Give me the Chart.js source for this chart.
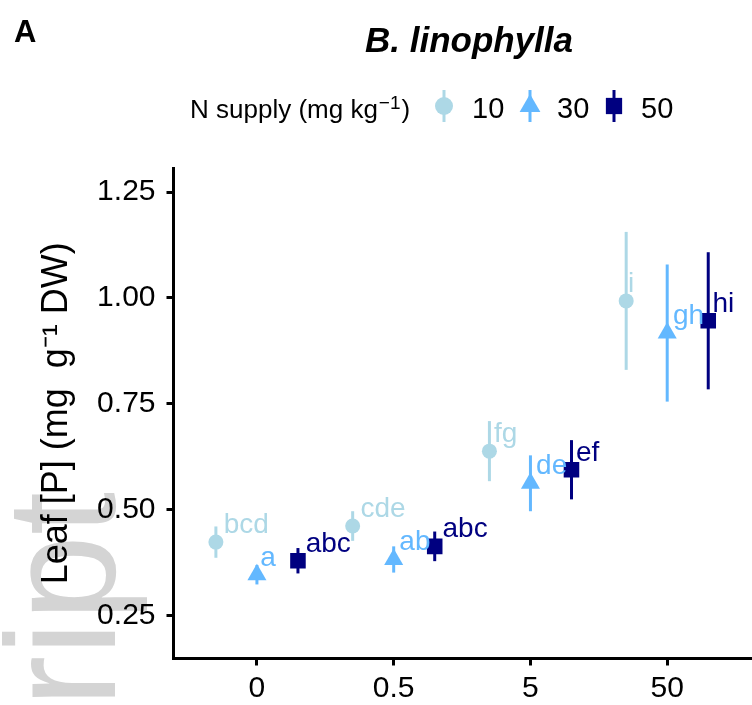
<!DOCTYPE html>
<html>
<head>
<meta charset="utf-8">
<script src="https://cdn.jsdelivr.net/npm/chart.js@4.4.1/dist/chart.umd.min.js"></script>
<style>
  html, body { margin: 0; padding: 0; background: #fff; }
  #wrap { width: 752px; height: 705px; }
</style>
</head>
<body>
<div id="wrap"><canvas id="leafP" width="752" height="705"></canvas></div>
<script>
// P supply (x categories) and N supply levels (series)
const pSupply = ['0', '0.5', '5', '50'];
const nSupply = ['10', '30', '50'];

// mean leaf [P] and standard error for each N level
const mean10 = [0.423, 0.461, 0.638, 0.993];
const se10   = [0.037, 0.035, 0.071, 0.163];
const mean30 = [0.346, 0.382, 0.562, 0.917];
const se30   = [0.023, 0.031, 0.066, 0.162];
const mean50 = [0.379, 0.413, 0.594, 0.946];
const se50   = [0.030, 0.035, 0.070, 0.162];

// letters of the post-hoc test
const letters10 = ['bcd', 'cde', 'fg', 'i'];
const letters30 = ['a', 'ab', 'de', 'gh'];
const letters50 = ['abc', 'abc', 'ef', 'hi'];

const yTicks = [0.25, 0.5, 0.75, 1.0, 1.25];

const FONT = "'Liberation Sans', Arial, Helvetica, sans-serif";
const colors = ['#ADD8E6', '#63B8FF', '#000080'];
const styles = ['circle', 'triangle', 'rect'];
const radii = [7.5, 11, 11];
const dodge = [-0.3, 0, 0.3];

function makeSet(k, means, errs, letters) {
    return {
        label: nSupply[k],
        data: means.map((m, i) => ({ x: i + 1 + dodge[k], y: m })),
        errs: errs,
        letters: letters,
        backgroundColor: colors[k],
        borderColor: colors[k],
        borderWidth: 0,
        pointStyle: styles[k],
        pointRadius: radii[k],
        pointHoverRadius: radii[k]
    };
}

// watermark left over from the manuscript pdf
const watermark = {
    id: 'watermark',
    beforeDraw(chart) {
        const ctx = chart.ctx;
        ctx.save();
        ctx.translate(115, 492);
        ctx.rotate(-Math.PI / 2);
        ctx.font = '155px ' + FONT;
        ctx.fillStyle = '#d4d4d4';
        ctx.textAlign = 'right';
        ctx.textBaseline = 'alphabetic';
        ctx.fillText('Manuscript', 0, 0);
        ctx.restore();
    }
};

// vertical error bars (mean +/- se)
const errorBars = {
    id: 'errorBars',
    beforeDatasetsDraw(chart) {
        const ctx = chart.ctx;
        const y = chart.scales.y;
        chart.data.datasets.forEach((ds, k) => {
            const meta = chart.getDatasetMeta(k);
            ctx.save();
            ctx.strokeStyle = ds.borderColor;
            ctx.lineWidth = 3;
            ds.data.forEach((p, i) => {
                const px = meta.data[i].x;
                ctx.beginPath();
                ctx.moveTo(px, y.getPixelForValue(p.y - ds.errs[i]));
                ctx.lineTo(px, y.getPixelForValue(p.y + ds.errs[i]));
                ctx.stroke();
            });
            ctx.restore();
        });
    }
};

// significance letters next to each point
const letterLabels = {
    id: 'letterLabels',
    afterDatasetsDraw(chart) {
        const ctx = chart.ctx;
        ctx.save();
        ctx.font = '28px ' + FONT;
        ctx.textAlign = 'left';
        ctx.textBaseline = 'alphabetic';
        chart.data.datasets.forEach((ds, k) => {
            const meta = chart.getDatasetMeta(k);
            ctx.fillStyle = ds.borderColor;
            ds.letters.forEach((t, i) => {
                const pt = meta.data[i];
                const w = ctx.measureText(t).width;
                ctx.fillText(t, pt.x + 1 + 0.15 * w, pt.y - 9);
            });
        });
        ctx.restore();
    }
};

// panel tag, title and legend row
const header = {
    id: 'header',
    afterDraw(chart) {
        const ctx = chart.ctx;
        const H = Chart.helpers;
        ctx.save();
        ctx.fillStyle = '#000';
        ctx.textBaseline = 'alphabetic';

        ctx.font = 'bold 31px ' + FONT;
        ctx.textAlign = 'left';
        ctx.fillText('A', 14, 42);

        ctx.font = 'italic bold 35px ' + FONT;
        ctx.textAlign = 'center';
        ctx.fillText('B. linophylla', 469, 52);

        // legend title with superscript
        ctx.textAlign = 'left';
        let x = 190;
        ctx.font = '26px ' + FONT;
        ctx.fillText('N supply (mg kg', x, 118);
        x += ctx.measureText('N supply (mg kg').width + 1;
        ctx.font = '19px ' + FONT;
        ctx.fillText('\u22121', x, 109);
        x += ctx.measureText('\u22121').width + 1;
        ctx.font = '26px ' + FONT;
        ctx.fillText(')', x, 118);

        const keyX = [444, 530, 614];
        const labX = [472, 557, 641];
        const keyR = [9, 12, 11.5];
        nSupply.forEach((lab, k) => {
            ctx.strokeStyle = colors[k];
            ctx.fillStyle = colors[k];
            ctx.lineWidth = 3;
            ctx.beginPath();
            ctx.moveTo(keyX[k], 90);
            ctx.lineTo(keyX[k], 122);
            ctx.stroke();
            H.drawPoint(ctx, { pointStyle: styles[k], radius: keyR[k], borderWidth: 0, rotation: 0 }, keyX[k], 106);
            ctx.fillStyle = '#000';
            ctx.font = '29px ' + FONT;
            ctx.fillText(lab, labX[k], 118);
        });
        ctx.restore();
    }
};

const axisGrid = { display: true, drawOnChartArea: false, drawTicks: true, tickLength: 7, lineWidth: 3, color: '#000' };
const axisBorder = { display: true, width: 3, color: '#000' };

new Chart(document.getElementById('leafP'), {
    type: 'scatter',
    data: {
        datasets: [
            makeSet(0, mean10, se10, letters10),
            makeSet(1, mean30, se30, letters30),
            makeSet(2, mean50, se50, letters50)
        ]
    },
    options: {
        responsive: false,
        animation: false,
        devicePixelRatio: 1,
        layout: { autoPadding: false, padding: { top: 168, right: 0, bottom: 0, left: 0 } },
        plugins: {
            legend: { display: false },
            tooltip: { enabled: false }
        },
        scales: {
            x: {
                type: 'linear',
                min: 0.39,
                max: 4.62,
                afterBuildTicks: s => { s.ticks = pSupply.map((_, i) => ({ value: i + 1 })); },
                ticks: {
                    callback: (v, i) => pSupply[i],
                    font: { size: 30, family: FONT },
                    color: '#000',
                    padding: 5,
                    maxRotation: 0
                },
                grid: axisGrid,
                border: axisBorder,
                afterFit: s => { s.height = 46.5; s.paddingLeft = 0; s.paddingRight = 0; }
            },
            y: {
                min: 0.148,
                max: 1.307,
                afterBuildTicks: s => { s.ticks = yTicks.map(v => ({ value: v })); },
                ticks: {
                    callback: v => v.toFixed(2),
                    font: { size: 30, family: FONT },
                    color: '#000',
                    padding: 11
                },
                grid: axisGrid,
                border: axisBorder,
                title: {
                    display: true,
                    text: 'Leaf [P] (mg  g\u207B\u00B9 DW)',
                    font: { size: 36, family: FONT },
                    color: '#000',
                    padding: { top: 35, bottom: 0 }
                },
                afterFit: s => { s.width = 173.5; s.paddingTop = 0; s.paddingBottom = 0; }
            }
        }
    },
    plugins: [watermark, errorBars, letterLabels, header]
});
</script>
</body>
</html>
